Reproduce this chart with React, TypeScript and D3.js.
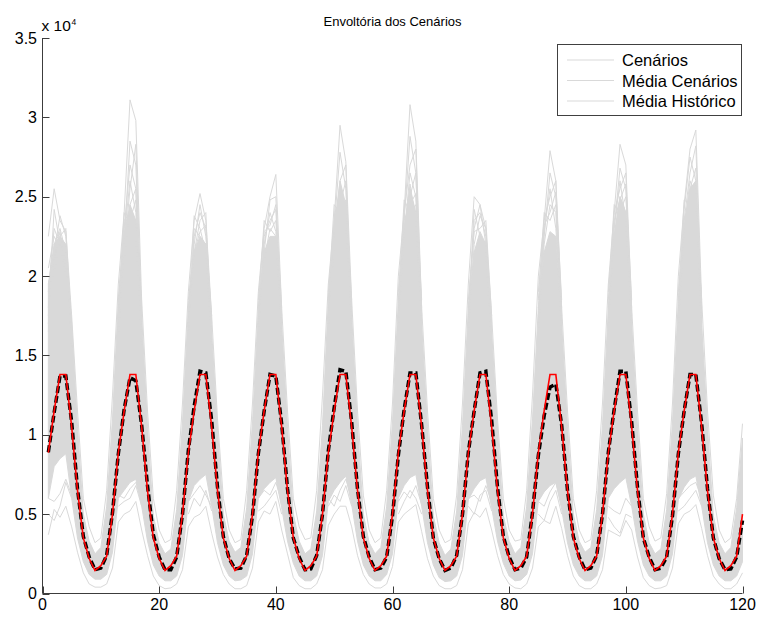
import React from "react";
import * as d3 from "d3";

// Monthly series over 10 years (months 1..120), values in thousands.
const histMonthlyK = [8.87, 11.5, 13.8, 13.8, 10.5, 6.5, 3.5, 2.2, 1.45, 1.75, 2.35, 5.0];

const scenarioMeanRowsK = [
  [8.9, 11.4, 13.7, 13.7, 10.8, 6.6, 3.6, 2.3, 1.5, 1.6, 2.4, 5.1],
  [8.8, 11.6, 13.6, 13.4, 10.6, 6.8, 3.7, 2.3, 1.5, 1.5, 2.3, 5.0],
  [9.0, 11.8, 14.0, 13.9, 10.9, 6.7, 3.6, 2.2, 1.55, 1.6, 2.4, 4.9],
  [8.8, 11.5, 13.8, 13.7, 10.7, 6.6, 3.5, 2.3, 1.5, 1.55, 2.4, 5.0],
  [9.0, 11.7, 14.1, 14.0, 10.8, 6.6, 3.6, 2.3, 1.5, 1.6, 2.3, 4.9],
  [8.7, 11.6, 13.9, 13.9, 10.6, 6.7, 3.5, 2.2, 1.45, 1.6, 2.4, 5.0],
  [8.9, 11.5, 13.9, 14.0, 10.9, 6.7, 3.6, 2.3, 1.5, 1.6, 2.3, 5.1],
  [8.7, 11.2, 13.0, 13.2, 10.6, 6.5, 3.6, 2.3, 1.5, 1.6, 2.4, 5.0],
  [8.9, 11.6, 14.0, 14.0, 10.8, 6.7, 3.5, 2.3, 1.5, 1.6, 2.3, 4.9],
  [8.8, 11.5, 13.8, 13.8, 10.7, 6.6, 3.5, 2.2, 1.5, 1.55, 2.3, 4.6],
];

// Dense band of the scenario bundle (lower / upper edge)
const coreLowRowsK = [
  [6.0, 8.0, 8.5, 8.8, 6.0, 3.5, 2.0, 1.2, 0.9, 0.9, 1.2, 2.6],
  [6.0, 6.5, 7.0, 7.2, 5.5, 3.3, 1.8, 1.1, 0.8, 0.8, 1.1, 2.4],
  [5.8, 6.8, 7.2, 7.5, 5.5, 3.2, 1.8, 1.1, 0.8, 0.85, 1.1, 2.5],
  [6.0, 6.6, 7.0, 7.3, 5.4, 3.3, 1.9, 1.1, 0.8, 0.8, 1.1, 2.4],
  [5.8, 6.5, 7.0, 7.4, 5.6, 3.3, 1.8, 1.1, 0.8, 0.8, 1.2, 2.5],
  [6.0, 6.8, 7.3, 7.5, 5.5, 3.2, 1.8, 1.0, 0.75, 0.8, 1.1, 2.4],
  [5.9, 6.6, 7.1, 7.3, 5.4, 3.3, 1.9, 1.1, 0.8, 0.85, 1.2, 2.5],
  [5.8, 6.4, 6.8, 7.0, 5.3, 3.2, 1.8, 1.1, 0.8, 0.8, 1.1, 2.4],
  [6.0, 6.6, 7.0, 7.3, 5.5, 3.3, 1.8, 1.1, 0.8, 0.8, 1.1, 2.5],
  [5.9, 6.7, 7.2, 7.4, 5.5, 3.2, 1.8, 1.1, 0.8, 0.8, 1.1, 2.0],
];

const coreHighRowsK = [
  [19.5, 22.0, 22.5, 22.0, 17.0, 10.5, 5.0, 3.3, 2.5, 2.9, 5.5, 11.0],
  [18.5, 22.5, 24.5, 23.5, 17.5, 10.5, 4.9, 3.2, 2.5, 2.8, 5.3, 10.8],
  [18.0, 21.5, 22.5, 22.0, 16.5, 10.3, 5.0, 3.3, 2.6, 2.9, 5.4, 10.8],
  [18.0, 21.5, 22.5, 22.5, 17.0, 10.5, 5.0, 3.3, 2.5, 2.8, 5.2, 10.6],
  [18.5, 23.0, 26.0, 24.5, 17.5, 10.5, 5.0, 3.2, 2.5, 2.9, 5.5, 10.8],
  [18.5, 23.0, 25.5, 24.0, 17.0, 10.5, 4.9, 3.2, 2.4, 2.8, 5.2, 10.6],
  [18.0, 21.5, 22.8, 22.0, 16.5, 10.3, 4.9, 3.3, 2.5, 2.9, 5.5, 11.0],
  [18.0, 21.5, 22.8, 22.5, 17.0, 10.5, 5.0, 3.3, 2.6, 2.9, 5.3, 10.6],
  [18.0, 22.5, 25.0, 24.0, 17.0, 10.5, 5.0, 3.2, 2.5, 2.8, 5.3, 10.8],
  [18.5, 23.0, 25.5, 26.0, 17.0, 10.5, 4.9, 3.2, 2.5, 2.9, 5.4, 9.8],
];

// Outermost scenarios (maximum / minimum per month)
const envMaxRowsK = [
  [22.5, 25.5, 23.5, 22.8, 17.5, 11.5, 6.0, 4.2, 3.2, 3.5, 6.5, 12.5],
  [19.5, 24.0, 31.1, 29.8, 18.5, 11.5, 6.0, 4.0, 3.2, 3.4, 6.5, 12.0],
  [19.0, 23.5, 25.2, 23.5, 17.5, 11.0, 6.0, 4.0, 3.2, 3.4, 6.5, 12.0],
  [19.0, 23.0, 25.0, 26.4, 18.0, 11.5, 6.0, 4.2, 3.4, 3.5, 6.5, 12.5],
  [19.5, 23.5, 29.5, 27.2, 18.5, 11.5, 6.2, 4.0, 3.2, 3.5, 6.5, 12.0],
  [20.0, 24.0, 30.8, 28.5, 18.0, 11.5, 6.0, 4.0, 3.2, 3.4, 6.2, 12.0],
  [19.5, 25.0, 24.5, 23.0, 17.5, 11.0, 6.0, 4.0, 3.3, 3.4, 6.5, 12.5],
  [20.0, 23.5, 27.9, 26.0, 18.0, 11.5, 6.0, 4.0, 3.2, 3.4, 6.5, 12.0],
  [19.5, 24.0, 28.3, 27.0, 18.0, 11.5, 6.0, 4.2, 3.3, 3.5, 6.3, 12.0],
  [20.0, 24.5, 28.0, 29.2, 18.5, 11.5, 6.2, 4.0, 3.2, 3.5, 6.0, 10.7],
];

const envMinRowsK = [
  [3.7, 5.3, 4.8, 5.5, 4.2, 2.6, 1.3, 0.6, 0.4, 0.4, 0.6, 1.6],
  [4.5, 5.0, 5.2, 5.8, 4.0, 2.4, 1.1, 0.5, 0.3, 0.35, 0.6, 1.5],
  [4.2, 4.8, 5.0, 5.5, 3.8, 2.3, 1.2, 0.6, 0.3, 0.3, 0.5, 1.6],
  [4.5, 5.2, 5.0, 5.8, 4.0, 2.5, 1.0, 0.5, 0.3, 0.3, 0.6, 1.5],
  [4.3, 5.0, 5.5, 5.5, 4.2, 2.4, 1.2, 0.6, 0.35, 0.35, 0.6, 1.7],
  [4.5, 5.0, 5.3, 5.6, 3.9, 2.2, 1.1, 0.5, 0.3, 0.3, 0.5, 1.5],
  [4.4, 5.1, 4.8, 5.4, 4.0, 2.4, 1.2, 0.6, 0.35, 0.3, 0.6, 1.6],
  [4.2, 4.6, 4.4, 5.5, 4.1, 2.4, 1.1, 0.5, 0.3, 0.3, 0.6, 1.5],
  [4.0, 3.8, 3.6, 4.6, 4.0, 2.3, 1.0, 0.5, 0.3, 0.35, 0.5, 1.6],
  [4.4, 5.0, 5.2, 5.6, 4.1, 2.4, 1.1, 0.6, 0.3, 0.3, 0.6, 1.3],
];

// Individual wet-season scenarios above the dense band: [first month, five values]
const highScenarioSegmentsK = [
  [1, 18.0, 24.2, 22.0, 21.0, 15.0],
  [1, 17.5, 21.5, 23.8, 22.5, 15.5],
  [1, 16.5, 20.0, 22.5, 23.0, 16.5],
  [1, 19.0, 23.0, 22.0, 20.0, 14.5],
  [1, 20.5, 22.5, 21.8, 22.0, 17.0],
  [1, 17.0, 22.0, 23.0, 21.5, 16.5],
  [1, 19.5, 21.0, 22.8, 20.5, 15.0],
  [13, 17.0, 22.0, 28.5, 27.0, 17.5],
  [13, 16.5, 23.0, 27.0, 25.5, 16.0],
  [13, 17.5, 21.5, 25.5, 28.3, 17.0],
  [13, 16.0, 22.5, 26.0, 24.0, 15.5],
  [13, 17.0, 21.0, 24.5, 25.5, 16.5],
  [13, 18.5, 23.5, 24.0, 23.5, 18.0],
  [13, 18.0, 22.5, 23.5, 24.8, 17.5],
  [13, 17.5, 24.0, 22.8, 22.5, 16.0],
  [25, 16.5, 22.5, 24.0, 23.0, 16.0],
  [25, 17.0, 21.5, 23.5, 24.0, 15.5],
  [25, 16.0, 23.0, 22.5, 22.0, 16.5],
  [25, 18.0, 22.0, 24.5, 22.5, 17.5],
  [25, 17.5, 23.8, 23.0, 21.5, 16.0],
  [25, 18.5, 21.5, 22.8, 23.2, 17.0],
  [37, 16.5, 21.5, 24.8, 25.0, 16.5],
  [37, 17.0, 22.5, 23.5, 24.2, 16.0],
  [37, 16.0, 21.0, 23.0, 22.5, 17.0],
  [37, 18.0, 23.5, 22.8, 23.5, 17.5],
  [37, 17.5, 22.0, 24.0, 22.8, 16.5],
  [37, 18.5, 22.8, 23.2, 24.5, 18.0],
  [49, 17.0, 23.0, 27.8, 25.5, 17.0],
  [49, 17.5, 22.0, 26.0, 27.0, 16.5],
  [49, 16.5, 23.5, 25.0, 24.5, 17.5],
  [49, 17.0, 22.0, 24.5, 26.0, 16.0],
  [49, 18.5, 24.5, 24.0, 23.5, 18.0],
  [49, 18.0, 22.8, 25.5, 23.0, 17.5],
  [49, 19.0, 23.0, 23.8, 24.8, 18.5],
  [61, 17.5, 23.5, 28.8, 26.5, 17.0],
  [61, 17.0, 24.0, 27.0, 28.0, 17.5],
  [61, 16.5, 22.5, 26.5, 25.0, 16.5],
  [61, 17.5, 23.0, 25.0, 26.5, 17.0],
  [61, 18.5, 24.8, 24.0, 24.5, 18.0],
  [61, 18.0, 22.5, 25.8, 23.5, 17.0],
  [61, 19.0, 23.5, 24.5, 25.2, 18.5],
  [73, 17.0, 23.5, 24.0, 22.5, 16.5],
  [73, 16.5, 22.0, 23.8, 23.0, 16.0],
  [73, 17.5, 24.2, 22.5, 21.5, 15.5],
  [73, 18.5, 22.8, 23.0, 23.5, 17.5],
  [73, 18.0, 23.0, 24.5, 22.0, 17.0],
  [85, 17.5, 22.5, 26.5, 25.0, 16.5],
  [85, 17.0, 23.5, 25.0, 26.0, 17.0],
  [85, 16.5, 22.0, 24.5, 24.0, 16.0],
  [85, 18.5, 24.0, 23.5, 24.5, 18.0],
  [85, 18.0, 22.8, 25.5, 23.0, 17.5],
  [85, 19.0, 23.2, 24.0, 25.3, 18.5],
  [97, 17.0, 23.0, 26.8, 25.5, 17.0],
  [97, 17.5, 24.0, 25.5, 26.5, 16.5],
  [97, 16.5, 22.5, 25.0, 24.0, 17.5],
  [97, 18.5, 24.5, 24.0, 25.0, 18.0],
  [97, 18.0, 23.0, 26.0, 23.5, 17.0],
  [97, 19.0, 23.5, 24.8, 25.8, 18.5],
  [109, 17.5, 23.5, 26.5, 28.2, 17.5],
  [109, 17.0, 24.2, 27.5, 26.0, 17.0],
  [109, 16.5, 22.5, 25.5, 26.8, 16.5],
  [109, 17.5, 23.0, 26.0, 25.0, 16.0],
  [109, 18.5, 24.8, 24.5, 25.5, 18.0],
  [109, 19.0, 23.5, 25.0, 24.2, 18.5],
];

// Dry scenarios below the dense band during the wet season
const lowScenarioSegmentsK = [
  [1, 5.0, 4.6, 5.5, 7.0, 6.0],
  [1, 6.0, 5.8, 6.3, 7.2, 6.2],
  [13, 5.5, 5.8, 6.0, 6.8, 5.5],
  [13, 6.2, 6.0, 6.6, 7.0, 5.8],
  [25, 5.0, 6.0, 5.5, 6.5, 5.2],
  [25, 5.8, 6.3, 6.8, 6.2, 5.5],
  [37, 5.2, 5.5, 6.0, 6.5, 5.0],
  [37, 6.0, 6.5, 6.2, 7.0, 5.8],
  [49, 5.5, 6.2, 5.8, 6.8, 5.5],
  [49, 6.0, 5.5, 6.5, 7.2, 6.0],
  [61, 5.0, 5.8, 6.5, 6.0, 5.0],
  [61, 5.8, 6.4, 6.0, 6.8, 5.6],
  [73, 5.5, 5.0, 6.2, 6.5, 5.2],
  [73, 6.0, 6.2, 5.8, 6.8, 5.8],
  [85, 5.0, 4.6, 5.8, 6.5, 5.0],
  [85, 5.8, 5.5, 6.4, 7.0, 5.6],
  [97, 4.8, 4.2, 3.8, 5.0, 4.8],
  [97, 5.5, 5.2, 5.0, 6.0, 5.5],
  [109, 5.2, 5.5, 6.0, 6.5, 5.5],
  [109, 6.0, 6.4, 6.8, 7.0, 6.0],
];

const xTicks = [0, 20, 40, 60, 80, 100, 120];
const yTicks = [0, 5000, 10000, 15000, 20000, 25000, 30000, 35000];
const yTickLabels = ["0", "0.5", "1", "1.5", "2", "2.5", "3", "3.5"];
const legendLabels = ["Cenários", "Média Cenários", "Média Histórico"];
const title = "Envoltória dos Cenários";

const nYears = scenarioMeanRowsK.length;
const histMeanK = d3.range(nYears).flatMap(() => histMonthlyK);
const scenarioMeanK = scenarioMeanRowsK.flat();
const coreLowK = coreLowRowsK.flat();
const coreHighK = coreHighRowsK.flat();
const envMaxK = envMaxRowsK.flat();
const envMinK = envMinRowsK.flat();

const FONT = "'Liberation Sans', Arial, Helvetica, sans-serif";
const GRAY = "#d9d9d9";

export default function App() {
  const x = d3.scaleLinear().domain([0, 120]).range([42.5, 742.5]);
  const y = d3.scaleLinear().domain([0, 35000]).range([593.5, 38]);

  const line = d3
    .line<[number, number]>()
    .x((d) => x(d[0]))
    .y((d) => y(d[1] * 1000));

  const toPts = (vals: number[], start = 1): [number, number][] =>
    vals.map((v, i) => [start + i, v]);

  const coreArea = d3
    .area<number>()
    .x((_, i) => x(i + 1))
    .y0((_, i) => y(coreLowK[i] * 1000))
    .y1((d) => y(d * 1000));

  const segPath = (seg: number[]) => line(toPts(seg.slice(1), seg[0])) || "";

  const [x0, x1] = x.range();
  const [yb, yt] = y.range();
  const tickLen = 7;

  return (
    <svg
      width={763}
      height={617}
      style={{ position: "absolute", left: 0, top: 0, background: "#fff" }}
      fontFamily={FONT}
    >
      <rect x={0} y={0} width={763} height={617} fill="#fff" />

      {/* scenario bundle */}
      <g fill="none" stroke={GRAY} strokeWidth={1}>
        <path d={coreArea(coreHighK) || ""} fill={GRAY} stroke={GRAY} />
        <path d={line(toPts(envMaxK)) || ""} />
        <path d={line(toPts(envMinK)) || ""} />
        {highScenarioSegmentsK.map((s, i) => (
          <path key={"h" + i} d={segPath(s)} />
        ))}
        {lowScenarioSegmentsK.map((s, i) => (
          <path key={"l" + i} d={segPath(s)} />
        ))}
      </g>

      {/* mean of scenarios */}
      <path
        d={line(toPts(scenarioMeanK)) || ""}
        fill="none"
        stroke="#000"
        strokeWidth={3.5}
        strokeDasharray="7 3"
      />
      {/* historical mean */}
      <path
        d={line(toPts(histMeanK)) || ""}
        fill="none"
        stroke="#ff0000"
        strokeWidth={1.6}
      />

      {/* axes */}
      <g stroke="#3c3c3c" strokeWidth={1} fill="none">
        <line x1={x0} x2={x0} y1={yb} y2={yt} />
        <line x1={x0} x2={x1} y1={yb} y2={yb} />
        {yTicks.map((t) => (
          <line key={"yt" + t} x1={x0} x2={x0 + tickLen} y1={Math.round(y(t)) + 0.5} y2={Math.round(y(t)) + 0.5} />
        ))}
        {xTicks.map((t) => (
          <line key={"xt" + t} x1={Math.round(x(t)) + 0.5} x2={Math.round(x(t)) + 0.5} y1={yb} y2={yb - tickLen} />
        ))}
      </g>
      <g fontSize={16} fill="#000">
        {yTicks.map((t, i) => (
          <text key={"yl" + t} x={37} y={y(t)} textAnchor="end" dominantBaseline="central">
            {yTickLabels[i]}
          </text>
        ))}
        {xTicks.map((t) => (
          <text key={"xl" + t} x={x(t)} y={610} textAnchor="middle">
            {t}
          </text>
        ))}
        <text x={41.5} y={31} fontSize={15.5}>x 10</text>
        <text x={71.5} y={25} fontSize={8.5}>4</text>
        <text x={(x0 + x1) / 2} y={26} textAnchor="middle" fontSize={13}>
          {title}
        </text>
      </g>

      {/* legend */}
      <g>
        <rect x={557.5} y={44.5} width={184} height={71} fill="#fff" stroke="#404040" strokeWidth={1} />
        {legendLabels.map((lab, i) => (
          <g key={lab}>
            <line x1={567} x2={614} y1={60 + i * 20.5} y2={60 + i * 20.5} stroke={GRAY} strokeWidth={1} />
            <text x={622} y={60 + i * 20.5} dominantBaseline="central" fontSize={16.5} fill="#000">
              {lab}
            </text>
          </g>
        ))}
      </g>
    </svg>
  );
}
